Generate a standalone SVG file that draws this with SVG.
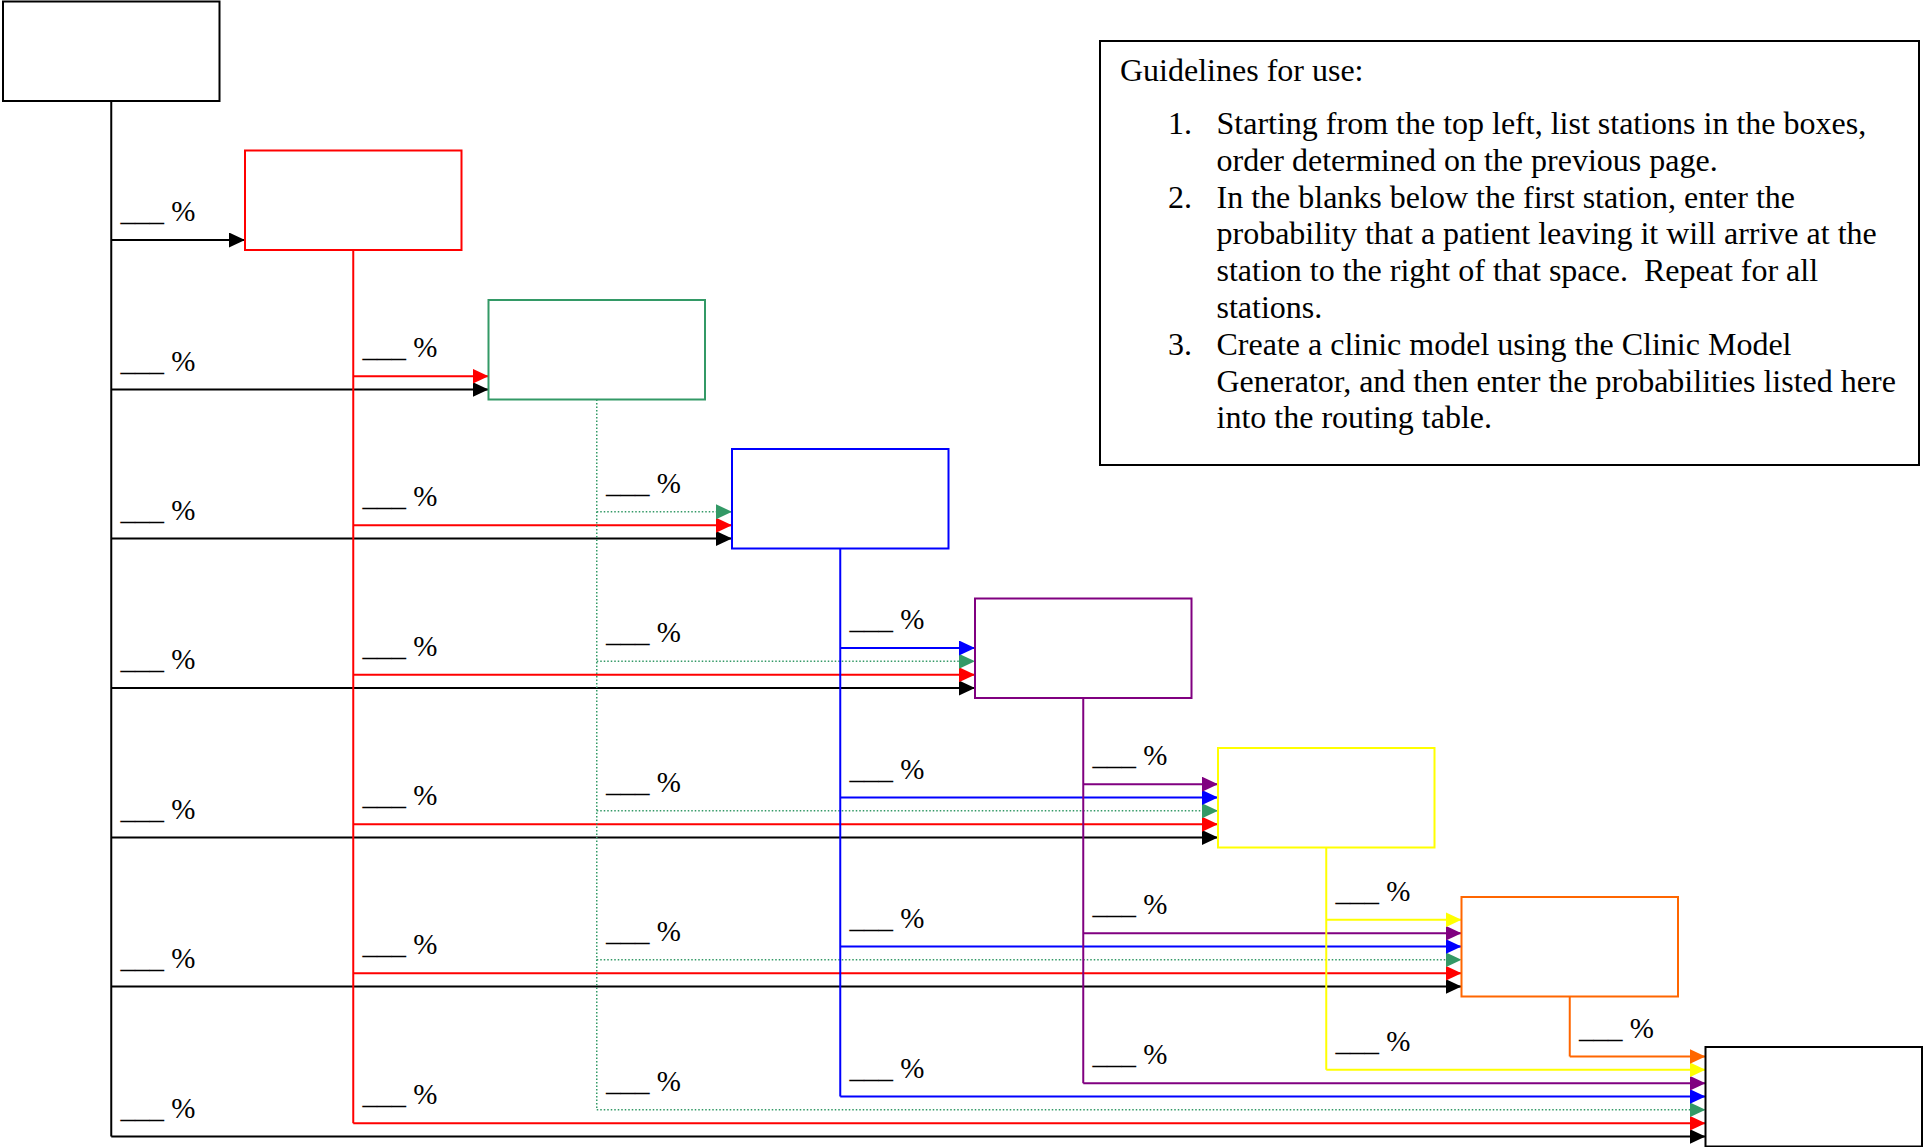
<svg xmlns="http://www.w3.org/2000/svg" width="1923" height="1147" viewBox="0 0 1923 1147">
  <style>
    .box { fill: #ffffff; stroke-width: 2; }
    .line { fill: none; stroke-width: 2; }
    .dot { fill: none; stroke-width: 1.5; stroke-dasharray: 1.5 2; }
    .lbl { font-family: "Liberation Serif", "Times New Roman", serif; font-size: 29px; fill: #000000; }
    .note { font-family: "Liberation Serif", "Times New Roman", serif; font-size: 32px; fill: #000000; }
    .k { stroke: #000000; }
    .r { stroke: #ff0000; }
    .g { stroke: #339966; }
    .b { stroke: #0000ff; }
    .p { stroke: #800080; }
    .y { stroke: #ffff00; }
    .o { stroke: #ff6600; }
  </style>
  <defs>
    <marker id="ak" markerUnits="userSpaceOnUse" viewBox="0 0 16 15" markerWidth="16" markerHeight="15" refX="16" refY="7.5" orient="auto"><path d="M0,0 L16,7.5 L0,15 Z" fill="#000000"/></marker>
    <marker id="ar" markerUnits="userSpaceOnUse" viewBox="0 0 16 15" markerWidth="16" markerHeight="15" refX="16" refY="7.5" orient="auto"><path d="M0,0 L16,7.5 L0,15 Z" fill="#ff0000"/></marker>
    <marker id="ag" markerUnits="userSpaceOnUse" viewBox="0 0 16 15" markerWidth="16" markerHeight="15" refX="16" refY="7.5" orient="auto"><path d="M0,0 L16,7.5 L0,15 Z" fill="#339966"/></marker>
    <marker id="ab" markerUnits="userSpaceOnUse" viewBox="0 0 16 15" markerWidth="16" markerHeight="15" refX="16" refY="7.5" orient="auto"><path d="M0,0 L16,7.5 L0,15 Z" fill="#0000ff"/></marker>
    <marker id="ap" markerUnits="userSpaceOnUse" viewBox="0 0 16 15" markerWidth="16" markerHeight="15" refX="16" refY="7.5" orient="auto"><path d="M0,0 L16,7.5 L0,15 Z" fill="#800080"/></marker>
    <marker id="ay" markerUnits="userSpaceOnUse" viewBox="0 0 16 15" markerWidth="16" markerHeight="15" refX="16" refY="7.5" orient="auto"><path d="M0,0 L16,7.5 L0,15 Z" fill="#ffff00"/></marker>
    <marker id="ao" markerUnits="userSpaceOnUse" viewBox="0 0 16 15" markerWidth="16" markerHeight="15" refX="16" refY="7.5" orient="auto"><path d="M0,0 L16,7.5 L0,15 Z" fill="#ff6600"/></marker>
  </defs>

  <!-- connectors: one vertical trunk per station, one branch per downstream station -->
  <g id="connectors">
    <g id="from-station-1">
      <path class="line k" d="M111.25,101 V1136.5"/>
      <path class="line k" marker-end="url(#ak)" d="M111.25,240 H245"/>
      <path class="line k" marker-end="url(#ak)" d="M111.25,389.5 H488.5"/>
      <path class="line k" marker-end="url(#ak)" d="M111.25,538.5 H732"/>
      <path class="line k" marker-end="url(#ak)" d="M111.25,688 H975"/>
      <path class="line k" marker-end="url(#ak)" d="M111.25,837.5 H1218"/>
      <path class="line k" marker-end="url(#ak)" d="M111.25,986.5 H1461.5"/>
      <path class="line k" marker-end="url(#ak)" d="M111.25,1136.5 H1705.5"/>
    </g>
    <g id="from-station-2">
      <path class="line r" d="M353.25,250 V1123.2"/>
      <path class="line r" marker-end="url(#ar)" d="M353.25,376.2 H488.5"/>
      <path class="line r" marker-end="url(#ar)" d="M353.25,525.2 H732"/>
      <path class="line r" marker-end="url(#ar)" d="M353.25,674.7 H975"/>
      <path class="line r" marker-end="url(#ar)" d="M353.25,824.2 H1218"/>
      <path class="line r" marker-end="url(#ar)" d="M353.25,973.2 H1461.5"/>
      <path class="line r" marker-end="url(#ar)" d="M353.25,1123.2 H1705.5"/>
    </g>
    <g id="from-station-3">
      <path class="dot g" d="M596.75,399.5 V1109.8"/>
      <path class="dot g" marker-end="url(#ag)" d="M596.75,511.8 H732"/>
      <path class="dot g" marker-end="url(#ag)" d="M596.75,661.3 H975"/>
      <path class="dot g" marker-end="url(#ag)" d="M596.75,810.8 H1218"/>
      <path class="dot g" marker-end="url(#ag)" d="M596.75,959.8 H1461.5"/>
      <path class="dot g" marker-end="url(#ag)" d="M596.75,1109.8 H1705.5"/>
    </g>
    <g id="from-station-4">
      <path class="line b" d="M840.25,548.5 V1096.5"/>
      <path class="line b" marker-end="url(#ab)" d="M840.25,648 H975"/>
      <path class="line b" marker-end="url(#ab)" d="M840.25,797.5 H1218"/>
      <path class="line b" marker-end="url(#ab)" d="M840.25,946.5 H1461.5"/>
      <path class="line b" marker-end="url(#ab)" d="M840.25,1096.5 H1705.5"/>
    </g>
    <g id="from-station-5">
      <path class="line p" d="M1083.25,698 V1083.2"/>
      <path class="line p" marker-end="url(#ap)" d="M1083.25,784.2 H1218"/>
      <path class="line p" marker-end="url(#ap)" d="M1083.25,933.2 H1461.5"/>
      <path class="line p" marker-end="url(#ap)" d="M1083.25,1083.2 H1705.5"/>
    </g>
    <g id="from-station-6">
      <path class="line y" d="M1326.25,847.5 V1069.8"/>
      <path class="line y" marker-end="url(#ay)" d="M1326.25,919.8 H1461.5"/>
      <path class="line y" marker-end="url(#ay)" d="M1326.25,1069.8 H1705.5"/>
    </g>
    <g id="from-station-7">
      <path class="line o" d="M1569.75,996.5 V1056.5"/>
      <path class="line o" marker-end="url(#ao)" d="M1569.75,1056.5 H1705.5"/>
    </g>
  </g>

  <!-- probability blanks, one above each branch -->
  <g id="blanks" class="lbl">
    <text x="120.5" y="221">___ %</text>
    <text x="120.5" y="370.5">___ %</text>
    <text x="120.5" y="519.5">___ %</text>
    <text x="120.5" y="669">___ %</text>
    <text x="120.5" y="818.5">___ %</text>
    <text x="120.5" y="967.5">___ %</text>
    <text x="120.5" y="1117.5">___ %</text>

    <text x="362.5" y="357.2">___ %</text>
    <text x="362.5" y="506.2">___ %</text>
    <text x="362.5" y="655.7">___ %</text>
    <text x="362.5" y="805.2">___ %</text>
    <text x="362.5" y="954.2">___ %</text>
    <text x="362.5" y="1104.2">___ %</text>

    <text x="606" y="492.8">___ %</text>
    <text x="606" y="642.3">___ %</text>
    <text x="606" y="791.8">___ %</text>
    <text x="606" y="940.8">___ %</text>
    <text x="606" y="1090.8">___ %</text>

    <text x="849.5" y="629">___ %</text>
    <text x="849.5" y="778.5">___ %</text>
    <text x="849.5" y="927.5">___ %</text>
    <text x="849.5" y="1077.5">___ %</text>

    <text x="1092.5" y="765.2">___ %</text>
    <text x="1092.5" y="914.2">___ %</text>
    <text x="1092.5" y="1064.2">___ %</text>

    <text x="1335.5" y="900.8">___ %</text>
    <text x="1335.5" y="1050.8">___ %</text>

    <text x="1579" y="1037.5">___ %</text>
  </g>

  <!-- station boxes, left to right -->
  <g id="station-1"><rect class="box k" x="3" y="1.5" width="216.5" height="99.5"/></g>
  <g id="station-2"><rect class="box r" x="245" y="150.5" width="216.5" height="99.5"/></g>
  <g id="station-3"><rect class="box g" x="488.5" y="300" width="216.5" height="99.5"/></g>
  <g id="station-4"><rect class="box b" x="732" y="449" width="216.5" height="99.5"/></g>
  <g id="station-5"><rect class="box p" x="975" y="598.5" width="216.5" height="99.5"/></g>
  <g id="station-6"><rect class="box y" x="1218" y="748" width="216.5" height="99.5"/></g>
  <g id="station-7"><rect class="box o" x="1461.5" y="897" width="216.5" height="99.5"/></g>
  <g id="station-8"><rect class="box k" x="1705.5" y="1047" width="216.5" height="99.5"/></g>

  <!-- usage notes -->
  <g id="guidelines">
    <rect class="box k" x="1100" y="41" width="819" height="424"/>
    <g class="note">
      <text x="1120" y="81">Guidelines for use:</text>
      <text x="1168" y="134">1.</text>
      <text x="1216.5" y="134">Starting from the top left, list stations in the boxes,</text>
      <text x="1216.5" y="170.8">order determined on the previous page.</text>
      <text x="1168" y="207.6">2.</text>
      <text x="1216.5" y="207.6">In the blanks below the first station, enter the</text>
      <text x="1216.5" y="244.4">probability that a patient leaving it will arrive at the</text>
      <text x="1216.5" y="281.2">station to the right of that space.&#160; Repeat for all</text>
      <text x="1216.5" y="318">stations.</text>
      <text x="1168" y="354.8">3.</text>
      <text x="1216.5" y="354.8">Create a clinic model using the Clinic Model</text>
      <text x="1216.5" y="391.6">Generator, and then enter the probabilities listed here</text>
      <text x="1216.5" y="428.4">into the routing table.</text>
    </g>
  </g>
</svg>
